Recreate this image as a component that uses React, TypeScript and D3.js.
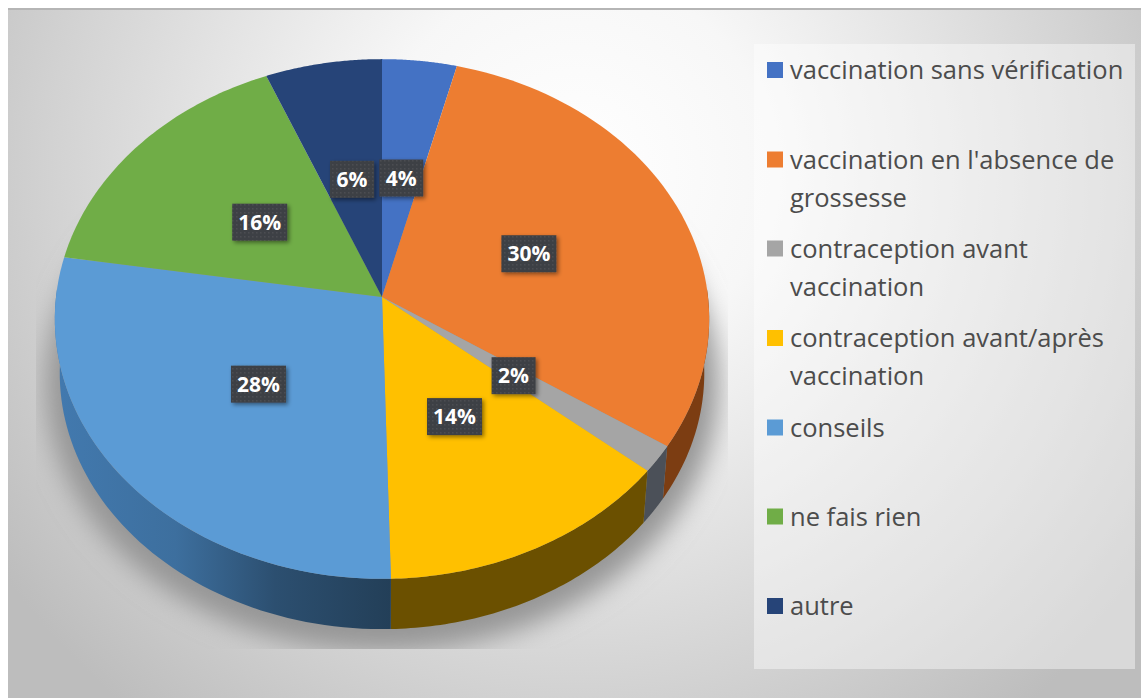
import React from "react";
import * as d3 from "d3";

const categories = ["vaccination sans vérification", "vaccination en l'absence de grossesse", "contraception avant vaccination", "contraception avant/après vaccination", "conseils", "ne fais rien", "autre"];
const legendLines = [["vaccination sans vérification"], ["vaccination en l'absence de", "grossesse"], ["contraception avant", "vaccination"], ["contraception avant/après", "vaccination"], ["conseils"], ["ne fais rien"], ["autre"]];
const values = [4, 30.3, 1.7, 13.6, 27.9, 16.25, 6.25];
const labels = ["4%", "30%", "2%", "14%", "28%", "16%", "6%"];
const colors = ["#4472c4", "#ed7d31", "#a5a5a5", "#ffc000", "#5b9bd5", "#70ad47", "#264478"];
const wallColors = ["#2a4678", "#7c3d12", "#4b5058", "#6b5000", "url(#wallBlue)", "#3d5f26", "#152848"];

const W = 1141, H = 698;
const cx = 382, cy = 297, R = 326, B = 258, k = 0.0846, depth = 54.5, lowScale = 0.985;
const legendRows = [70, 159.5, 248.5, 338, 427.5, 516.5, 606];

function proj(theta: number, rho = 1): [number, number] {
  const sx = Math.sin(theta) * rho, sy = -Math.cos(theta) * rho;
  const w = 1 - k * sy;
  return [cx + (R * sx) / w, cy + (B * sy) / w];
}
function low(theta: number): [number, number] {
  const [x, y] = proj(theta);
  return [cx + (x - cx) * lowScale, cy + depth + (y - cy) * lowScale];
}
const line = d3.line<[number, number]>().x((d) => d[0]).y((d) => d[1]);
const samples = (a: number, b: number) => d3.range(0, 61).map((i) => a + ((b - a) * i) / 60);

const arcs = d3.pie<number>().sort(null).value((d) => d)(values);
const frontA = Math.PI / 2 - 0.03, frontB = (3 * Math.PI) / 2 + 0.03;

export default function App() {
  const silhouette = line(samples(0, 2 * Math.PI).map((t) => low(t)))!;
  return (
    <svg width={W} height={H} style={{ position: "fixed", left: 0, top: 0 }} fontFamily="'Open Sans', sans-serif">
      <defs>
        <radialGradient id="bg" gradientUnits="userSpaceOnUse" cx={575} cy={170} r={700}>
          <stop offset="0" stopColor="#ffffff" />
          <stop offset="0.28" stopColor="#f7f7f7" />
          <stop offset="0.55" stopColor="#e2e2e2" />
          <stop offset="0.75" stopColor="#d2d2d2" />
          <stop offset="1" stopColor="#bdbdbd" />
        </radialGradient>
        <linearGradient id="wallBlue" gradientUnits="userSpaceOnUse" x1={60} x2={391} y1={0} y2={0}>
          <stop offset="0" stopColor="#4279ae" />
          <stop offset="0.35" stopColor="#3d6f9e" />
          <stop offset="0.65" stopColor="#2c4f70" />
          <stop offset="1" stopColor="#233f58" />
        </linearGradient>
        <filter id="shadowBlur" x="-20%" y="-20%" width="140%" height="140%">
          <feGaussianBlur stdDeviation="12" />
        </filter>
        <filter id="labelShadow" x="-30%" y="-30%" width="170%" height="170%">
          <feDropShadow dx="2" dy="2" stdDeviation="2" floodColor="#000" floodOpacity="0.45" />
        </filter>
        <pattern id="dots" width="4" height="4" patternUnits="userSpaceOnUse">
          <rect width="4" height="4" fill="#3e4044" />
          <rect width="1.5" height="1.5" fill="#4c4e52" />
        </pattern>
        <clipPath id="shadowClip">
          <rect x={36} y={200} width={692} height={449} />
        </clipPath>
      </defs>
      <rect x={0} y={0} width={W} height={H} fill="#ffffff" />
      <rect x={8} y={8} width={W - 8} height={H - 8} fill="url(#bg)" />
      <rect x={8} y={8} width={W - 8} height={2} fill="#b5b5b5" />
      <g clipPath="url(#shadowClip)">
        <path d={silhouette} fill="#969696" filter="url(#shadowBlur)" transform={`translate(${cx} ${cy + 8}) scale(1.045) translate(${-cx} ${-cy})`} />
      </g>
      <rect x={754} y={44} width={381} height={625} fill="#ffffff" fillOpacity={0.42} />
      <g>
        {arcs.map((a, i) => {
          const s = Math.max(a.startAngle, frontA), e = Math.min(a.endAngle, frontB);
          if (e <= s) return null;
          const ts = samples(s, e);
          const pts = [...ts.map((t) => proj(t)), ...ts.slice().reverse().map((t) => low(t))];
          return <path key={categories[i]} d={line(pts) + "Z"} fill={wallColors[i]} />;
        })}
        {arcs.map((a, i) => (
          <path key={categories[i]} d={line([[cx, cy], ...samples(a.startAngle, a.endAngle).map((t) => proj(t))]) + "Z"} fill={colors[i]} />
        ))}
      </g>
      {arcs.map((a, i) => {
        const [x, yc] = proj((a.startAngle + a.endAngle) / 2, 0.49);
        const y = yc + 1.5;
        const w = labels[i].length > 2 ? 55 : 44;
        return (
          <g key={labels[i]}>
            <rect x={x - w / 2} y={y - 18.5} width={w} height={37} fill="url(#dots)" filter="url(#labelShadow)" />
            <text x={x} y={y + 7.5} textAnchor="middle" fontSize={21} fontWeight={700} fill="#fff">{labels[i]}</text>
          </g>
        );
      })}
      {legendLines.map((ls, i) => (
        <g key={categories[i]}>
          <rect x={767} y={legendRows[i] - 8} width={16} height={16} fill={colors[i]} />
          {ls.map((t, j) => (
            <text key={t} x={790} y={legendRows[i] + 9 + j * 38} fontSize={25.5} fill="#4c4c4c">{t}</text>
          ))}
        </g>
      ))}
    </svg>
  );
}
